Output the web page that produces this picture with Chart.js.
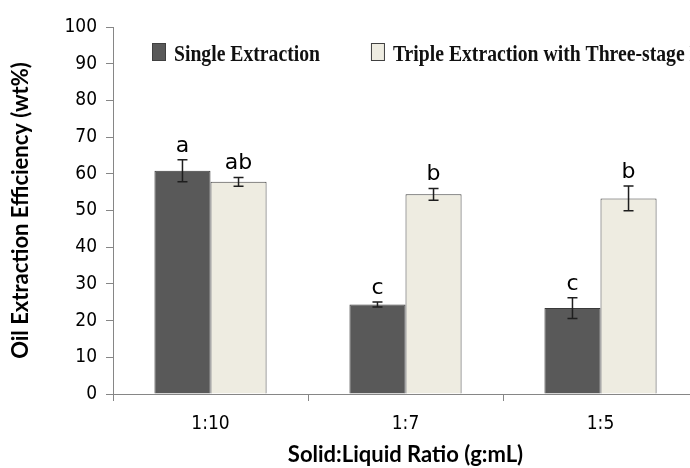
<!DOCTYPE html>
<html>
<head>
<meta charset="utf-8">
<script src="https://cdn.jsdelivr.net/npm/chart.js@4/dist/chart.umd.min.js"></script>
<style>
  html, body { margin: 0; padding: 0; background: #fff; overflow: hidden; }
  #wrap { width: 690px; height: 468px; overflow: hidden; }
  #box { width: 720px; height: 468px; }
</style>
</head>
<body>
<div id="wrap"><div id="box"><canvas id="c"></canvas></div></div>
<script>
const categories = ['1:10', '1:7', '1:5'];
const seriesNames = ['Single Extraction', 'Triple Extraction with Three-stage Extraction'];
const singleVals = [60.8, 24.4, 23.4];
const singleErr = [3.0, 0.7, 2.8];
const tripleVals = [57.8, 54.4, 53.3];
const tripleErr = [1.2, 1.6, 3.4];
const singleLetters = ['a', 'c', 'c'];
const tripleLetters = ['ab', 'b', 'b'];

const tickFont = '"DejaVu Sans Condensed", "DejaVu Sans", sans-serif';
const titleFont = 'Lato, "Open Sans", sans-serif';

// error bars, letters and the legend sitting inside the plot
const extras = {
  id: 'extras',
  afterDatasetsDraw(chart) {
    const ctx = chart.ctx;
    const y = chart.scales.y;
    const sets = [[singleErr, singleLetters], [tripleErr, tripleLetters]];
    ctx.save();
    sets.forEach(([err, letters], di) => {
      const meta = chart.getDatasetMeta(di);
      meta.data.forEach((bar, i) => {
        const v = chart.data.datasets[di].data[i];
        const top = y.getPixelForValue(v + err[i]);
        const bot = y.getPixelForValue(v - err[i]);
        ctx.strokeStyle = '#1e1e1e';
        ctx.lineWidth = 1.5;
        ctx.beginPath();
        ctx.moveTo(bar.x, top); ctx.lineTo(bar.x, bot);
        ctx.moveTo(bar.x - 5, top); ctx.lineTo(bar.x + 5, top);
        ctx.moveTo(bar.x - 5, bot); ctx.lineTo(bar.x + 5, bot);
        ctx.stroke();
        ctx.fillStyle = '#000';
        ctx.font = '22px "DejaVu Sans", sans-serif';
        ctx.textAlign = 'center';
        ctx.textBaseline = 'alphabetic';
        ctx.fillText(letters[i], bar.x, top - 8);
      });
    });

    // legend (condensed bold serif, like the original)
    const area = chart.chartArea;
    const sx = 0.82;
    ctx.font = 'bold 24px "Liberation Serif", serif';
    ctx.textAlign = 'left';
    ctx.textBaseline = 'alphabetic';
    let x = area.left + 39;
    const base = 61;
    chart.data.datasets.forEach((ds, i) => {
      ctx.fillStyle = ds.backgroundColor;
      ctx.strokeStyle = '#404040';
      ctx.lineWidth = 1;
      ctx.fillRect(x, base - 18, 14, 18);
      ctx.strokeRect(x + 0.5, base - 17.5, 13, 17);
      ctx.fillStyle = '#111';
      const tx = x + 22;
      ctx.save();
      ctx.translate(tx, base);
      ctx.scale(sx, 1);
      ctx.fillText(seriesNames[i], 0, 0);
      ctx.restore();
      x = tx + ctx.measureText(seriesNames[i]).width * sx + 51;
    });
    ctx.restore();
  }
};

new Chart(document.getElementById('c'), {
  type: 'bar',
  data: {
    labels: categories,
    datasets: [
      { label: seriesNames[0], data: singleVals, backgroundColor: '#595959', borderColor: '#3a3a3a', borderWidth: 1 },
      { label: seriesNames[1], data: tripleVals, backgroundColor: '#EEECE1', borderColor: '#404040', borderWidth: 1 }
    ]
  },
  options: {
    responsive: true,
    maintainAspectRatio: false,
    animation: false,
    categoryPercentage: 0.575,
    barPercentage: 1.0,
    layout: { padding: { left: 0, top: 27, right: 22, bottom: 0 } },
    plugins: { legend: { display: false }, tooltip: { enabled: false } },
    scales: {
      x: {
        grid: { display: true, drawOnChartArea: false, drawTicks: true, tickLength: 7, color: '#868686', offset: true },
        border: { color: '#868686', width: 1 },
        ticks: { font: { family: tickFont, size: 19 }, color: '#000', padding: 12 },
        title: { display: true, text: 'Solid:Liquid Ratio (g:mL)', color: '#000',
                 font: { family: titleFont, weight: 'bold', size: 22 }, padding: { top: 0, bottom: 0 } },
        afterFit(s) { s.height = 74; }
      },
      y: {
        min: 0, max: 100,
        ticks: { stepSize: 10, font: { family: tickFont, size: 19 }, color: '#000', padding: 9 },
        grid: { display: true, drawOnChartArea: false, drawTicks: true, tickLength: 7, color: '#868686' },
        border: { color: '#868686', width: 1 },
        title: { display: true, text: 'Oil Extraction Efficiency (wt%)', color: '#000',
                 font: { family: titleFont, weight: 'bold', size: 22 }, padding: { top: 8, bottom: 0 } },
        afterFit(s) { s.width = 113; }
      }
    }
  },
  plugins: [extras]
});
</script>
</body>
</html>
